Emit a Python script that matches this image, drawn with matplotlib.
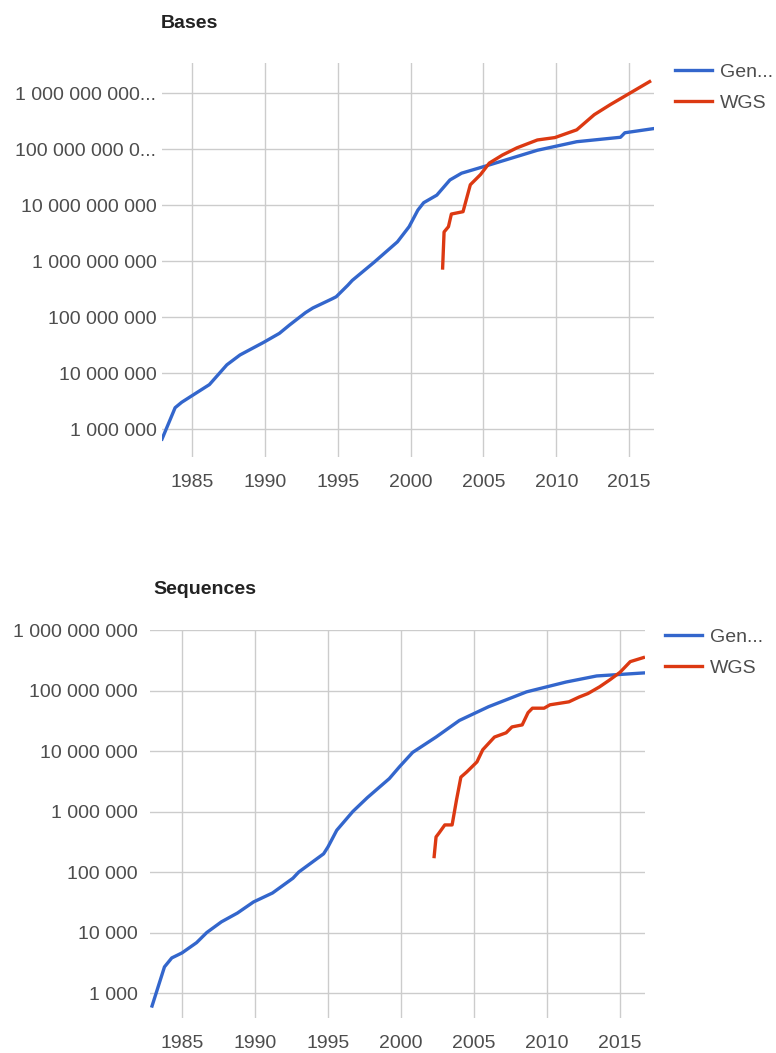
import matplotlib
matplotlib.use("Agg")
import matplotlib.pyplot as plt

plt.rcParams['font.family'] = ['Liberation Sans', 'DejaVu Sans']

# ---- Bases ----
bases_gen_years = [1982.95, 1983.85, 1984.3, 1985.3, 1986.2, 1987.4, 1988.3, 1989.2,
                   1989.9, 1991.0, 1991.7, 1992.8, 1993.3, 1994.6, 1994.9, 1995.7,
                   1996.0, 1997.5, 1999.1, 1999.9, 2000.5, 2000.9, 2001.8, 2002.7,
                   2003.5, 2005.3, 2008.7, 2011.4, 2014.4, 2014.7, 2016.6]
bases_gen_values = [6.6e5, 2.4e6, 3.0e6, 4.4e6, 6.2e6, 1.4e7, 2.1e7, 2.8e7,
                    3.5e7, 5.1e7, 7.2e7, 1.2e8, 1.45e8, 2.1e8, 2.3e8, 3.7e8,
                    4.5e8, 9.5e8, 2.2e9, 4.1e9, 8.1e9, 1.1e10, 1.5e10, 2.8e10,
                    3.7e10, 5.1e10, 9.5e10, 1.35e11, 1.62e11, 1.95e11, 2.3e11]
bases_wgs_years = [2002.2, 2002.3, 2002.6, 2002.8, 2003.6, 2004.1, 2004.8, 2005.4,
                   2006.3, 2007.3, 2008.7, 2009.9, 2011.4, 2012.6, 2013.7, 2014.6, 2016.4]
bases_wgs_values = [7.5e8, 3.3e9, 4.1e9, 6.9e9, 7.6e9, 2.3e10, 3.5e10, 5.6e10,
                    7.8e10, 1.05e11, 1.45e11, 1.6e11, 2.2e11, 4.1e11, 6.2e11, 8.5e11, 1.6e12]
bases_ticks = [1e6, 1e7, 1e8, 1e9, 1e10, 1e11, 1e12]
bases_tick_labels = ["1 000 000", "10 000 000", "100 000 000", "1 000 000 000",
                     "10 000 000 000", "100 000 000 0...", "1 000 000 000..."]

# ---- Sequences ----
seq_gen_years = [1982.95, 1983.8, 1984.3, 1985.0, 1986.0, 1986.7, 1987.7, 1988.8,
                 1989.9, 1991.2, 1992.6, 1993.0, 1994.7, 1995.0, 1995.6, 1996.7,
                 1997.7, 1999.2, 1999.9, 2000.8, 2002.4, 2004.0, 2006.0, 2008.6,
                 2011.3, 2013.4, 2016.6]
seq_gen_values = [610, 2700, 3800, 4600, 6800, 1.0e4, 1.5e4, 2.1e4,
                  3.2e4, 4.5e4, 7.9e4, 1.0e5, 2.0e5, 2.6e5, 4.9e5, 1.0e6,
                  1.7e6, 3.5e6, 5.5e6, 9.5e6, 1.7e7, 3.2e7, 5.4e7, 9.5e7,
                  1.38e8, 1.74e8, 1.95e8]
seq_wgs_years = [2002.27, 2002.4, 2002.6, 2003.0, 2003.5, 2003.8, 2004.1, 2004.5,
                 2005.2, 2005.6, 2006.4, 2007.2, 2007.6, 2008.3, 2008.7, 2009.0,
                 2009.8, 2010.2, 2011.5, 2012.2, 2012.8, 2013.6, 2014.3, 2015.0,
                 2015.7, 2016.6]
seq_wgs_values = [1.8e5, 3.8e5, 4.4e5, 6.0e5, 6.0e5, 1.55e6, 3.7e6, 4.5e6,
                  6.6e6, 1.05e7, 1.7e7, 2.0e7, 2.5e7, 2.7e7, 4.3e7, 5.1e7,
                  5.1e7, 5.8e7, 6.5e7, 7.8e7, 8.9e7, 1.15e8, 1.5e8, 2.0e8,
                  3.0e8, 3.5e8]
seq_ticks = [1e3, 1e4, 1e5, 1e6, 1e7, 1e8, 1e9]
seq_tick_labels = ["1 000", "10 000", "100 000", "1 000 000", "10 000 000",
                   "100 000 000", "1 000 000 000"]

year_ticks = [1985, 1990, 1995, 2000, 2005, 2010, 2015]
series_names = ["Gen...", "WGS"]

BLUE = '#3366cc'
RED = '#dc3912'
W, H = 776, 1053

fig = plt.figure(figsize=(W / 100, H / 100), dpi=100)


def draw_panel(rect, gen_x, gen_y, wgs_x, wgs_y, ticks, labels, xlim, ylim, ypad,
               title, title_xy, legend_xy):
    ax = fig.add_axes(rect)
    ax.plot(gen_x, gen_y, color=BLUE, lw=2.4, label=series_names[0])
    ax.plot(wgs_x, wgs_y, color=RED, lw=2.4, label=series_names[1])
    ax.set_yscale('log')
    ax.set_xlim(*xlim)
    ax.set_ylim(*ylim)
    ax.set_yticks(ticks)
    ax.set_yticklabels(labels)
    ax.yaxis.set_minor_locator(matplotlib.ticker.NullLocator())
    ax.set_xticks(year_ticks)
    ax.set_xticklabels([str(y) for y in year_ticks])
    ax.grid(True, color='#cccccc', lw=1)
    ax.set_axisbelow(True)
    for s in ax.spines.values():
        s.set_visible(False)
    ax.tick_params(axis='both', length=0, labelsize=14, colors='#4d4d4d')
    ax.tick_params(axis='y', pad=ypad)
    ax.tick_params(axis='x', pad=12)
    fig.text(title_xy[0] / W, 1 - title_xy[1] / H, title, fontsize=14,
             fontweight='bold', color='#222222', va='center', ha='left')
    fig.legend(handles=ax.get_lines(), loc='upper left',
               bbox_to_anchor=(legend_xy[0] / W, 1 - legend_xy[1] / H),
               bbox_transform=fig.transFigure, frameon=False, fontsize=14,
               borderpad=0, borderaxespad=0, handlelength=1.9,
               handletextpad=0.4, labelspacing=0.72, labelcolor='#4d4d4d')
    return ax


draw_panel([162 / W, 1 - 457 / H, 492 / W, 394 / H],
           bases_gen_years, bases_gen_values, bases_wgs_years, bases_wgs_values,
           bases_ticks, bases_tick_labels, (1982.95, 2016.7), (10 ** 5.5, 10 ** 12.536), 4,
           "Bases", (161, 24), (675, 63))

draw_panel([150 / W, 1 - 1018 / H, 495 / W, 388 / H],
           seq_gen_years, seq_gen_values, seq_wgs_years, seq_wgs_values,
           seq_ticks, seq_tick_labels, (1982.81, 2016.71), (10 ** 2.587, 1e9), 9,
           "Sequences", (153, 589), (665, 628))

fig.savefig("out.png", dpi=100)
